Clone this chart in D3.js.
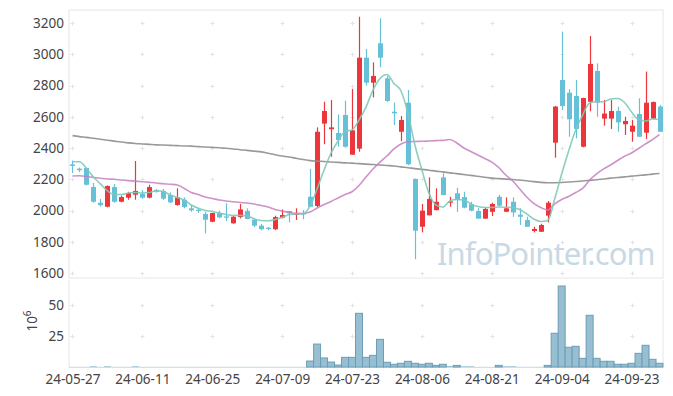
<!DOCTYPE html>
<html><head><meta charset="utf-8">
<script src="https://cdn.jsdelivr.net/npm/d3@7"></script>
<style>body{margin:0;background:#fff}svg{display:block}text{font-family:"Noto Sans",sans-serif}</style>
</head><body><svg id="c" width="673" height="396"></svg>
<script>
const dates = ["24-05-27","24-05-28","24-05-29","24-05-30","24-05-31","24-06-03","24-06-04","24-06-05","24-06-07","24-06-10",
"24-06-11","24-06-12","24-06-13","24-06-14","24-06-17","24-06-18","24-06-19","24-06-20","24-06-21","24-06-24",
"24-06-25","24-06-26","24-06-27","24-06-28","24-07-01","24-07-02","24-07-03","24-07-04","24-07-05","24-07-08",
"24-07-09","24-07-10","24-07-11","24-07-12","24-07-15","24-07-16","24-07-17","24-07-18","24-07-19","24-07-22",
"24-07-23","24-07-24","24-07-25","24-07-26","24-07-29","24-07-30","24-07-31","24-08-01","24-08-02","24-08-05",
"24-08-06","24-08-07","24-08-08","24-08-09","24-08-12","24-08-13","24-08-14","24-08-16","24-08-19","24-08-20",
"24-08-21","24-08-22","24-08-23","24-08-26","24-08-27","24-08-28","24-08-29","24-08-30","24-09-02","24-09-03",
"24-09-04","24-09-05","24-09-06","24-09-09","24-09-10","24-09-11","24-09-12","24-09-13","24-09-19","24-09-20",
"24-09-23","24-09-24","24-09-25","24-09-26","24-09-27"];
const openP = [2295,2268,2272,2150,2050,2024,2150,2056,2082,2101,2106,2082,2131,2125,2099,2035,2069,2014,2005,1978,
1928,1984,1962,1918,1958,1997,1941,1903,1890,1880,1954,1997,1973,1982,2088,2029,2556,2520,2496,2611,
2357,2396,2978,2818,3070,2846,2632,2504,2690,2202,1896,1969,2002,2212,2050,2110,2086,2040,1997,1948,
1992,2088,1992,2056,1973,1939,1869,1864,1967,2434,2835,2754,2733,2408,2696,2893,2588,2588,2637,2552,
2504,2618,2498,2588,2665];
const highP = [2320,2275,2275,2176,2074,2160,2170,2095,2120,2317,2131,2165,2138,2138,2116,2142,2084,2035,2018,1992,
1984,1999,2046,1965,2042,2014,1950,1914,1894,1967,2007,1997,2014,2003,2266,2532,2696,2707,2615,2703,
2778,3240,3034,2948,3230,2862,2690,2605,2771,2205,2042,2212,2142,2238,2088,2146,2120,2056,2014,2020,
2050,2101,2084,2084,2014,1960,1896,1915,2061,2670,3145,2776,2835,2722,3117,2942,2707,2707,2664,2600,
2579,2718,2889,2698,2675];
const lowP = [2240,2245,2160,2050,2025,2020,2050,2052,2069,2069,2075,2078,2114,2067,2048,2031,2014,1992,1984,1854,
1925,1950,1933,1915,1950,1944,1894,1873,1873,1875,1950,1924,1939,1944,2022,2022,2424,2344,2408,2402,
2357,2376,2799,2724,2917,2695,2547,2443,2290,1688,1860,1969,2002,2099,2024,1992,2014,1995,1948,1948,
1965,2024,1990,1960,1907,1896,1860,1862,1924,2338,2643,2472,2462,2404,2635,2600,2543,2522,2504,2483,
2440,2472,2458,2588,2504];
const closeP = [2285,2258,2165,2056,2034,2157,2056,2086,2112,2125,2082,2150,2120,2076,2052,2084,2022,2001,1997,1941,
1984,1956,1954,1960,2007,1946,1903,1880,1882,1958,1971,1982,1980,1978,2024,2504,2637,2532,2451,2408,
2513,2978,2818,2861,2978,2701,2622,2579,2296,1871,1999,2074,2056,2099,2058,2067,2018,1999,1948,2010,
2042,2031,2014,1988,1960,1896,1882,1907,2050,2665,2669,2584,2522,2720,2938,2690,2620,2637,2564,2573,
2543,2472,2690,2694,2504];
const volume = [0.1,0.1,0.1,0.6,0.1,0.6,0.1,0.1,0.1,0.6,0.1,0.1,0.1,0.1,0.1,0.1,0.1,0.1,0.1,0.1,
0.1,0.1,0.1,0.1,0.1,0.1,0.1,0.1,0.1,0.1,0.1,0.1,0.1,0.1,4.8,18.5,7.3,4,1.6,7.8,
7.8,43.3,7.8,9.4,22.3,3.8,2.2,3,4.6,3,2.2,3,1.3,2.2,0.8,1.3,0.6,0.6,0.1,0.1,
0.1,1.3,0.6,0.6,0.1,0.1,0.1,0.1,1.3,27.2,65.3,15.9,16.7,7,41.7,7,4.6,4.6,2.2,2.2,
3,11,17.5,6.2,3];
const ma5 = [2312,2312,2269,2214,2170,2125,2102,2102,2112,2115,2112,2115,2126,2122,2099,2083,2067,2035,2014,2000,
1994,1984,1974,1968,1969,1965,1946,1936,1934,1942,1955,1974,1978,1978,2029,2138,2259,2368,2445,2506,
2516,2579,2662,2771,2845,2870,2813,2765,2624,2419,2259,2112,2035,2022,2061,2070,2067,2042,2026,2019,
2019,2022,2021,2019,2006,1978,1946,1930,1936,2074,2234,2381,2515,2611,2688,2696,2696,2714,2717,2691,
2630,2582,2573,2586,2582];
const ma20 = [2221,2222,2218,2211,2206,2202,2200,2195,2191,2188,2184,2180,2176,2171,2168,2163,2141,2115,2102,2086,
2077,2067,2061,2056,2051,2048,2042,2032,2022,2006,1997,1987,1982,1981,1990,2016,2038,2058,2080,2102,
2120,2160,2214,2266,2310,2349,2394,2426,2440,2442,2443,2445,2447,2449,2454,2432,2400,2378,2355,2333,
2310,2275,2227,2189,2138,2086,2045,2019,2003,2042,2070,2090,2115,2141,2195,2234,2266,2291,2320,2347,
2368,2397,2426,2454,2486];
const ma120 = [2479,2473,2468,2462,2456,2450,2444,2438,2433,2429,2426,2423,2420,2419,2417,2415,2413,2412,2409,2406,
2404,2402,2398,2394,2389,2385,2380,2375,2366,2357,2349,2342,2334,2326,2319,2316,2314,2310,2308,2305,
2303,2300,2297,2294,2291,2288,2285,2279,2274,2268,2263,2258,2252,2247,2241,2236,2230,2225,2219,2213,
2207,2204,2201,2198,2195,2190,2185,2180,2178,2178,2179,2182,2186,2189,2193,2197,2202,2207,2211,2215,
2220,2224,2228,2233,2237];
const priceTicks = [1600,1800,2000,2200,2400,2600,2800,3000,3200];
const volTicks = [25,50];
const dateTickIdx = [0,10,20,30,40,50,60,70,80];

const L=69, R=663, pTop=10, pBot=278, vTop=280, vBot=367;
const svg = d3.select("#c");
const n = dates.length;
const x = d3.scaleLinear().domain([-0.5, n-0.5]).range([L,R]);
const step = x(1)-x(0);
const y = d3.scaleLinear().domain([1600,3200]).range([273,23]);
const yv = d3.scaleLinear().domain([0,50]).range([vBot,305]);
const gridC = "#e3e3e3", frameC = "#e6e6e6", txtC = "#444";

// frames
svg.append("rect").attr("x",L).attr("y",pTop).attr("width",R-L).attr("height",pBot-pTop)
  .attr("fill","none").attr("stroke",frameC);
svg.append("line").attr("x1",L).attr("x2",L).attr("y1",vTop).attr("y2",vBot).attr("stroke",frameC);
svg.append("line").attr("x1",R).attr("x2",R).attr("y1",vTop).attr("y2",vBot).attr("stroke",frameC);
svg.append("line").attr("x1",L).attr("x2",R).attr("y1",vBot+0.5).attr("y2",vBot+0.5).attr("stroke","#dcdcdc");

// grid crosses
function cross(cx, cy){
  svg.append("path").attr("d",`M${cx-2},${cy}H${cx+2}M${cx},${cy-2}V${cy+2}`)
    .attr("stroke",gridC).attr("stroke-width",1).attr("fill","none");
}
dateTickIdx.forEach(i=>{
  priceTicks.forEach(p=>cross(Math.round(x(i))+0.5, Math.round(y(p))+0.5));
  volTicks.forEach(v=>cross(Math.round(x(i))+0.5, Math.round(yv(v))+0.5));
});

// watermark
svg.append("text").attr("x",437).attr("y",265).attr("font-size",31)
  .attr("letter-spacing",-0.9)
  .attr("fill","#c8d9e5").text("InfoPointer.com");

// axes
const ya = svg.append("g").attr("transform",`translate(${L},0)`)
  .call(d3.axisLeft(y).tickValues(priceTicks).tickSize(0).tickPadding(5).tickFormat(d3.format("d")));
ya.select(".domain").remove();
const va = svg.append("g").attr("transform",`translate(${L},0)`)
  .call(d3.axisLeft(yv).tickValues(volTicks).tickSize(0).tickPadding(5));
va.select(".domain").remove();
const xa = svg.append("g").attr("transform",`translate(0,${vBot})`)
  .call(d3.axisBottom(x).tickValues(dateTickIdx).tickSize(0).tickPadding(7).tickFormat(i=>dates[i]));
xa.select(".domain").remove();
svg.selectAll(".tick text").attr("font-family","Noto Sans, sans-serif").attr("font-size",13.5).attr("fill",txtC);

// 10^6 label
const vl = svg.append("text").attr("transform","translate(37,321) rotate(-90)")
  .attr("text-anchor","middle").attr("font-size",13.5).attr("fill",txtC);
vl.append("tspan").text("10");
vl.append("tspan").attr("dy",-6).attr("font-size",10).text("6");

// volume bars
svg.append("g").selectAll("rect").data(volume).join("rect")
  .attr("x",(d,i)=>x(i)-step/2).attr("width",step)
  .attr("y",d=>yv(d)).attr("height",d=>vBot-yv(d))
  .attr("fill","#97bfd1")
  .attr("stroke",d=>(vBot-yv(d))>=1?"#6b9db6":"none").attr("stroke-width",1);

// candles
const up = "#ec363c", dn = "#66c0d8";
const cg = svg.append("g");
d3.range(n).forEach(i=>{
  const col = closeP[i]>openP[i]?up:dn;
  const cx = Math.round(x(i))+0.5;
  cg.append("line").attr("x1",cx).attr("x2",cx).attr("y1",y(highP[i])).attr("y2",y(lowP[i]))
    .attr("stroke",col).attr("stroke-width",1.2);
  const t = y(Math.max(openP[i],closeP[i])), b = y(Math.min(openP[i],closeP[i]));
  cg.append("rect").attr("x",cx-2.5).attr("width",5).attr("y",t).attr("height",Math.max(1.2,b-t))
    .attr("fill",col);
});

// moving averages
const line = arr => d3.line().x((d,i)=>x(i)).y(d=>y(d)).curve(d3.curveMonotoneX)(arr);
svg.append("path").attr("d",line(ma120)).attr("fill","none").attr("stroke","#8e8e8e").attr("stroke-width",1.6).attr("opacity",0.9);
svg.append("path").attr("d",line(ma20)).attr("fill","none").attr("stroke","#c67fc0").attr("stroke-width",1.6).attr("opacity",0.85);
svg.append("path").attr("d",line(ma5)).attr("fill","none").attr("stroke","#7fc9b9").attr("stroke-width",1.6).attr("opacity",0.9);
</script></body></html>
